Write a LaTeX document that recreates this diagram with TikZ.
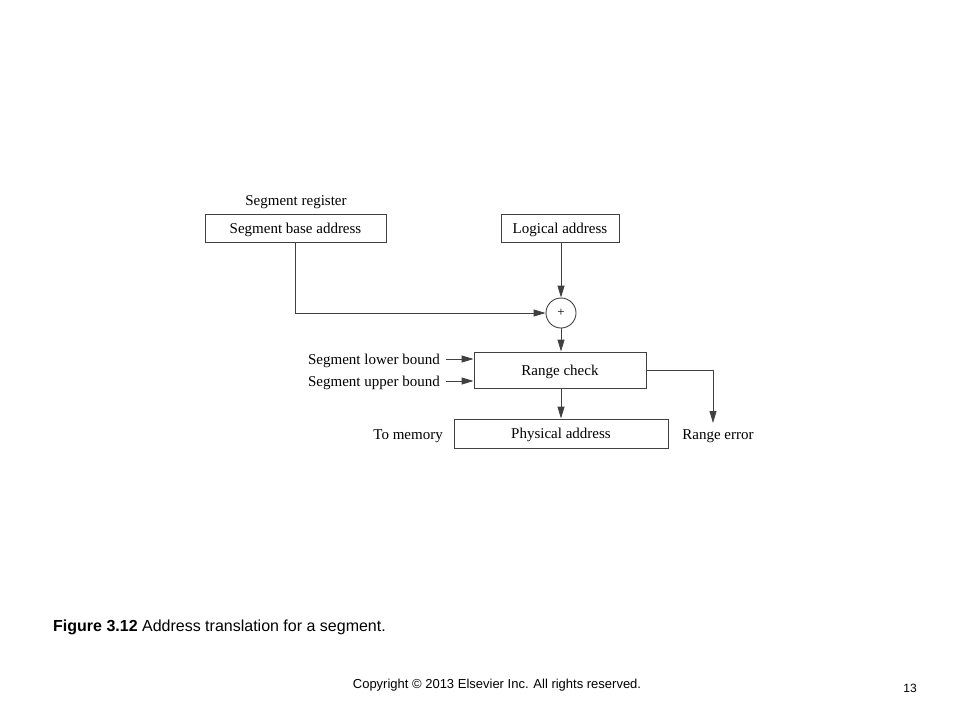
\documentclass[tikz,border=0pt]{standalone}
\usepackage{fontspec}
\setmainfont{Liberation Serif}
\newfontfamily\capfont{Liberation Sans}
\usetikzlibrary{arrows.meta}

\begin{document}
\begin{tikzpicture}[
		x=1pt, y=-1pt,
		box/.style={rectangle, draw=black!75, line width=0.9pt, inner sep=0pt, text height=10.5pt, text depth=0pt, font=\fontsize{15}{17}\selectfont},
		lbl/.style={inner sep=0pt, text height=10.5pt, text depth=0pt, font=\fontsize{15}{17}\selectfont},
		arr/.style={draw=black!75, line width=0.9pt, -{Triangle[length=12pt, width=7pt]}}
	]
	\useasboundingbox (0, 0) rectangle (960, 720);

	\node[box, minimum width=181, minimum height=28] (nodeBase) at (295.5, 228.5) {Segment base address};
	\node[lbl] (nodeReg) at (296, 200) {Segment register};
	\node[box, minimum width=118, minimum height=28] (nodeLogical) at (560, 228.5) {Logical address};
	\node[circle, draw=black!75, line width=0.9pt, inner sep=0pt, minimum size=30, font=\fontsize{13}{15}\selectfont] (nodePlus) at (561, 313) {+};
	\node[box, minimum width=172, minimum height=36] (nodeRange) at (560, 370) {Range check};
	\node[box, minimum width=214, minimum height=29] (nodePhys) at (561, 433.5) {Physical address};

	\node[lbl, anchor=east] (nodeLower) at (440, 359) {Segment lower bound};
	\node[lbl, anchor=east] (nodeUpper) at (440, 381) {Segment upper bound};
	\node[lbl, anchor=east] (nodeMem) at (443, 434) {To memory};
	\node[lbl] (nodeErr) at (718, 434) {Range error};
	\coordinate (errTop) at (713, 423);

	\draw[arr] (nodeBase.south) |- (nodePlus.west);
	\draw[arr] (nodeLogical.south -| nodePlus) -- (nodePlus.north);
	\draw[arr] (nodePlus.south) -- (nodeRange.north -| nodePlus);
	\draw[arr] (nodeLower.east) ++(6, 0) -- (nodeLower.east -| nodeRange.west);
	\draw[arr] (nodeUpper.east) ++(6, 0) -- (nodeUpper.east -| nodeRange.west);
	\draw[arr] (nodeRange.east) -| (errTop);
	\draw[arr] (nodeRange.south -| nodePlus) -- (nodePhys.north -| nodePlus);

	\node[anchor=west, inner sep=0pt, font=\capfont\fontsize{16}{18}\selectfont] (nodeCaption) at (53, 627) {\textbf{Figure 3.12} Address translation for a segment.};
	\node[inner sep=0pt, font=\capfont\fontsize{13}{15}\selectfont] (nodeCopy) at (497, 685) {Copyright \copyright{} 2013 Elsevier Inc. All rights reserved.};
	\node[inner sep=0pt, font=\capfont\fontsize{12}{14}\selectfont] (nodePage) at (910, 688) {13};
\end{tikzpicture}
\end{document}
